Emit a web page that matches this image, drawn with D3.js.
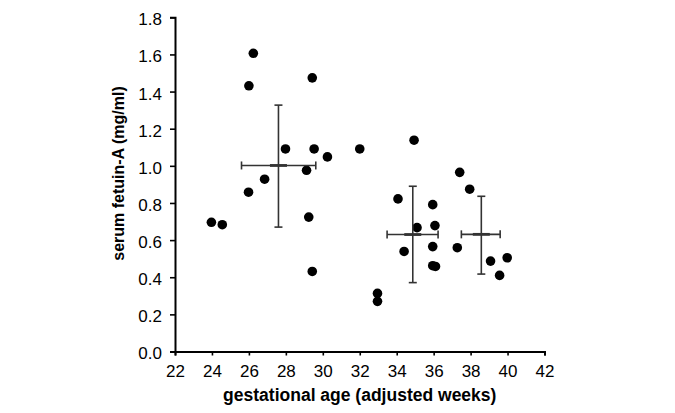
<!DOCTYPE html>
<html><head><meta charset="utf-8">
<script src="https://cdn.jsdelivr.net/npm/d3@7"></script>
<style>body{margin:0;background:#fff}svg{display:block}</style>
</head><body><svg id="c" width="675" height="413"></svg>
<script>
const ageWeeks = [26.24,26.0,29.43,27.98,29.53,30.25,32.0,29.12,26.85,25.98,23.97,24.56,29.24,29.43,32.96,32.96,34.94,34.07,35.95,35.1,36.07,34.4,35.95,35.95,36.1,37.41,37.95,37.28,39.08,39.98,39.57];
const fetuinA  = [1.606,1.431,1.474,1.091,1.091,1.048,1.091,0.976,0.928,0.858,0.696,0.683,0.724,0.431,0.313,0.270,1.138,0.822,0.791,0.667,0.678,0.539,0.565,0.462,0.458,0.965,0.874,0.559,0.487,0.505,0.41];
// group summaries (mean with SD bars)
const groupXMean = [27.6, 34.87, 38.58];
const groupXLow  = [25.6, 33.48, 37.5];
const groupXHigh = [29.62, 36.24, 39.6];
const groupYMean = [1.002, 0.63, 0.631];
const groupYLow  = [0.67, 0.371, 0.417];
const groupYHigh = [1.327, 0.89, 0.836];
const xTicks = [22,24,26,28,30,32,34,36,38,40,42];
const yTicks = [0,0.2,0.4,0.6,0.8,1.0,1.2,1.4,1.6,1.8];

const svg = d3.select('#c');
const m = {l:175, r:130.5, t:17.3, b:61.5};
const W = 675, H = 413;
const x = d3.scaleLinear().domain([22,42]).range([m.l, W-m.r]);
const y = d3.scaleLinear().domain([0,1.8]).range([H-m.b, m.t]);
const font = '"Liberation Sans", Arial, sans-serif';

const xa = svg.append('g').attr('transform',`translate(0,${H-m.b})`)
  .call(d3.axisBottom(x).tickValues(xTicks).tickFormat(d3.format('d')).tickSizeOuter(0).tickSize(4).tickPadding(9));
const ya = svg.append('g').attr('transform',`translate(${m.l},0)`)
  .call(d3.axisLeft(y).tickValues(yTicks).tickFormat(d3.format('.1f')).tickSizeOuter(0).tickSize(5).tickPadding(8));
[xa,ya].forEach(a=>{
  a.select('path.domain').attr('stroke','#000').attr('stroke-width',2);
  a.selectAll('line').attr('stroke','#000').attr('stroke-width',1.6);
  a.selectAll('text').attr('font-family',font).attr('font-size',17).attr('fill','#000');
});
ya.selectAll('text').attr('dy','0.44em');

svg.append('text').attr('x',(m.l+W-m.r)/2).attr('y',401).attr('text-anchor','middle')
  .attr('font-family',font).attr('font-weight','bold').attr('font-size',17.5).text('gestational age (adjusted weeks)');
svg.append('text').attr('transform','translate(123.5,173.5) rotate(-90)').attr('text-anchor','middle')
  .attr('font-family',font).attr('font-weight','bold').attr('font-size',16).text('serum fetuin-A (mg/ml)');

svg.append('g').selectAll('circle').data(ageWeeks).join('circle')
  .attr('cx',d=>x(d)).attr('cy',(d,i)=>y(fetuinA[i])).attr('r',4.8).attr('fill','#000');

const eb = svg.append('g').attr('stroke','#333').attr('stroke-width',1.6);
const cap = 4;
groupXMean.forEach((mx,i)=>{
  const cx = x(mx), cy = y(groupYMean[i]);
  eb.append('line').attr('x1',cx).attr('x2',cx).attr('y1',y(groupYLow[i])).attr('y2',y(groupYHigh[i]));
  eb.append('line').attr('x1',cx-cap).attr('x2',cx+cap).attr('y1',y(groupYLow[i])).attr('y2',y(groupYLow[i]));
  eb.append('line').attr('x1',cx-cap).attr('x2',cx+cap).attr('y1',y(groupYHigh[i])).attr('y2',y(groupYHigh[i]));
  eb.append('line').attr('x1',x(groupXLow[i])).attr('x2',x(groupXHigh[i])).attr('y1',cy).attr('y2',cy);
  eb.append('line').attr('x1',x(groupXLow[i])).attr('x2',x(groupXLow[i])).attr('y1',cy-cap).attr('y2',cy+cap);
  eb.append('line').attr('x1',x(groupXHigh[i])).attr('x2',x(groupXHigh[i])).attr('y1',cy-cap).attr('y2',cy+cap);
  eb.append('line').attr('x1',cx-8.5).attr('x2',cx+8.5).attr('y1',cy).attr('y2',cy).attr('stroke-width',2.8);
});
</script></body></html>
